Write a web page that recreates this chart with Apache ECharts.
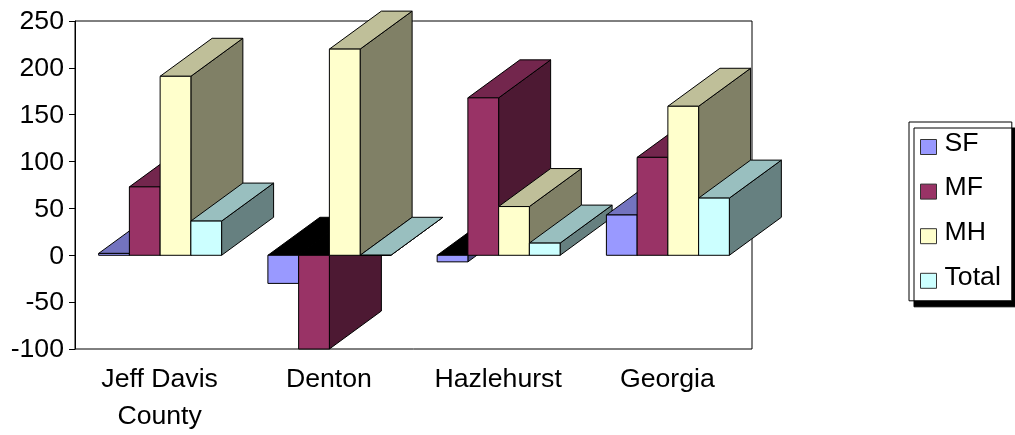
<!DOCTYPE html>
<html>
<head>
<meta charset="utf-8">
<style>html,body{margin:0;padding:0;background:#fff}#c{width:1015px;height:435px}</style>
<script src="https://cdn.jsdelivr.net/npm/echarts@6/dist/echarts.min.js"></script>
</head>
<body>
<div id="c"></div>
<script>
var categories = ['Jeff Davis\nCounty', 'Denton', 'Hazlehurst', 'Georgia'];
var seriesNames = ['SF', 'MF', 'MH', 'Total'];
var sf = [2, -30, -7, 43];
var mf = [73, -100, 168, 104.5];
var mh = [191, 220, 52, 159];
var total = [36.5, 0, 13, 61];
var valuesBySeries = [sf, mf, mh, total];
var frontColors = ['#9999FF', '#993366', '#FFFFCC', '#CCFFFF'];
var topColors = ['#7373BF', '#73264D', '#BFBF99', '#99BFBF'];
var sideColors = ['#4D4D80', '#4D1933', '#808066', '#668080'];
var depthX = 52, depthY = 38, barShare = 0.1816;
var font = '"Liberation Sans", Arial, sans-serif';

function bar3d(sIdx) {
  return function (params, api) {
    var cat = api.value(0), val = api.value(1);
    var pTop = api.coord([cat, val]);
    var pZero = api.coord([cat, 0]);
    var w = api.size([1, 0])[0] * barShare;
    var x0 = pTop[0] + (sIdx - 2) * w + 0.5, x1 = x0 + w;
    var yVal = pTop[1], yZero = pZero[1];
    var yHigh = Math.min(yVal, yZero);
    var z = cat * 100 + sIdx * 10;
    function poly(points, fill, z2) {
      return { type: 'polygon', z2: z2, shape: { points: points },
        style: { fill: fill, stroke: '#000', lineWidth: 1, lineJoin: 'round' } };
    }
    var negative = val < 0;
    return { type: 'group', children: [
      poly([[x1, yVal], [x1 + depthX, yVal - depthY], [x1 + depthX, yZero - depthY], [x1, yZero]], sideColors[sIdx], z),
      poly([[x0, yHigh], [x1, yHigh], [x1 + depthX, yHigh - depthY], [x0 + depthX, yHigh - depthY]],
        negative ? '#000' : topColors[sIdx], z + 1),
      poly([[x0, yVal], [x1, yVal], [x1, yZero], [x0, yZero]], frontColors[sIdx], z + 2)
    ]};
  };
}

var chart = echarts.init(document.getElementById('c'), null, { renderer: 'canvas' });
chart.setOption({
  animation: false,
  backgroundColor: '#fff',
  grid: { left: 75, top: 21, width: 677, height: 328, show: true, borderColor: '#000', borderWidth: 1, backgroundColor: 'transparent' },
  xAxis: {
    type: 'category', data: categories, position: 'bottom',
    axisLine: { show: false, onZero: false }, axisTick: { show: false }, splitLine: { show: false },
    axisLabel: { color: '#000', fontFamily: font, fontSize: 26.67, lineHeight: 37, margin: 12, interval: 0 }
  },
  yAxis: {
    type: 'value', min: -100, max: 250, interval: 50,
    axisLine: { show: true, onZero: false, lineStyle: { color: '#000', width: 1 } },
    axisTick: { show: true, length: 6, lineStyle: { color: '#000', width: 1 } },
    splitLine: { show: false },
    axisLabel: { color: '#000', fontFamily: font, fontSize: 26.67, margin: 11,
      formatter: '{t|{value}}',
      rich: { t: { color: '#000', fontFamily: font, fontSize: 26.67, padding: [2, 0, 0, 0] } } }
  },
  legend: {
    orient: 'vertical', left: 909, top: 122, padding: [8, 11, 10, 11],
    data: seriesNames.map(function (n, i) {
      return { name: n, icon: 'rect', itemStyle: { color: frontColors[i], borderColor: '#333', borderWidth: 1 } };
    }),
    itemWidth: 16, itemHeight: 15, itemGap: 17.6, selectedMode: false,
    backgroundColor: '#fff', borderColor: '#000', borderWidth: 1,
    shadowColor: '#000', shadowBlur: 0, shadowOffsetX: 5, shadowOffsetY: 6,
    formatter: '{t|{name}}',
    textStyle: { color: '#000', fontFamily: font, fontSize: 26.67,
      rich: { t: { color: '#000', fontFamily: font, fontSize: 26.67, padding: [0, 0, 7, 3] } } }
  },
  series: valuesBySeries.map(function (vals, i) {
    return {
      type: 'custom', name: seriesNames[i], coordinateSystem: 'cartesian2d',
      clip: false, encode: { x: 0, y: 1 },
      itemStyle: { color: frontColors[i] },
      data: vals.map(function (v, c) { return [c, v]; }),
      renderItem: bar3d(i)
    };
  })
});
</script>
</body>
</html>
